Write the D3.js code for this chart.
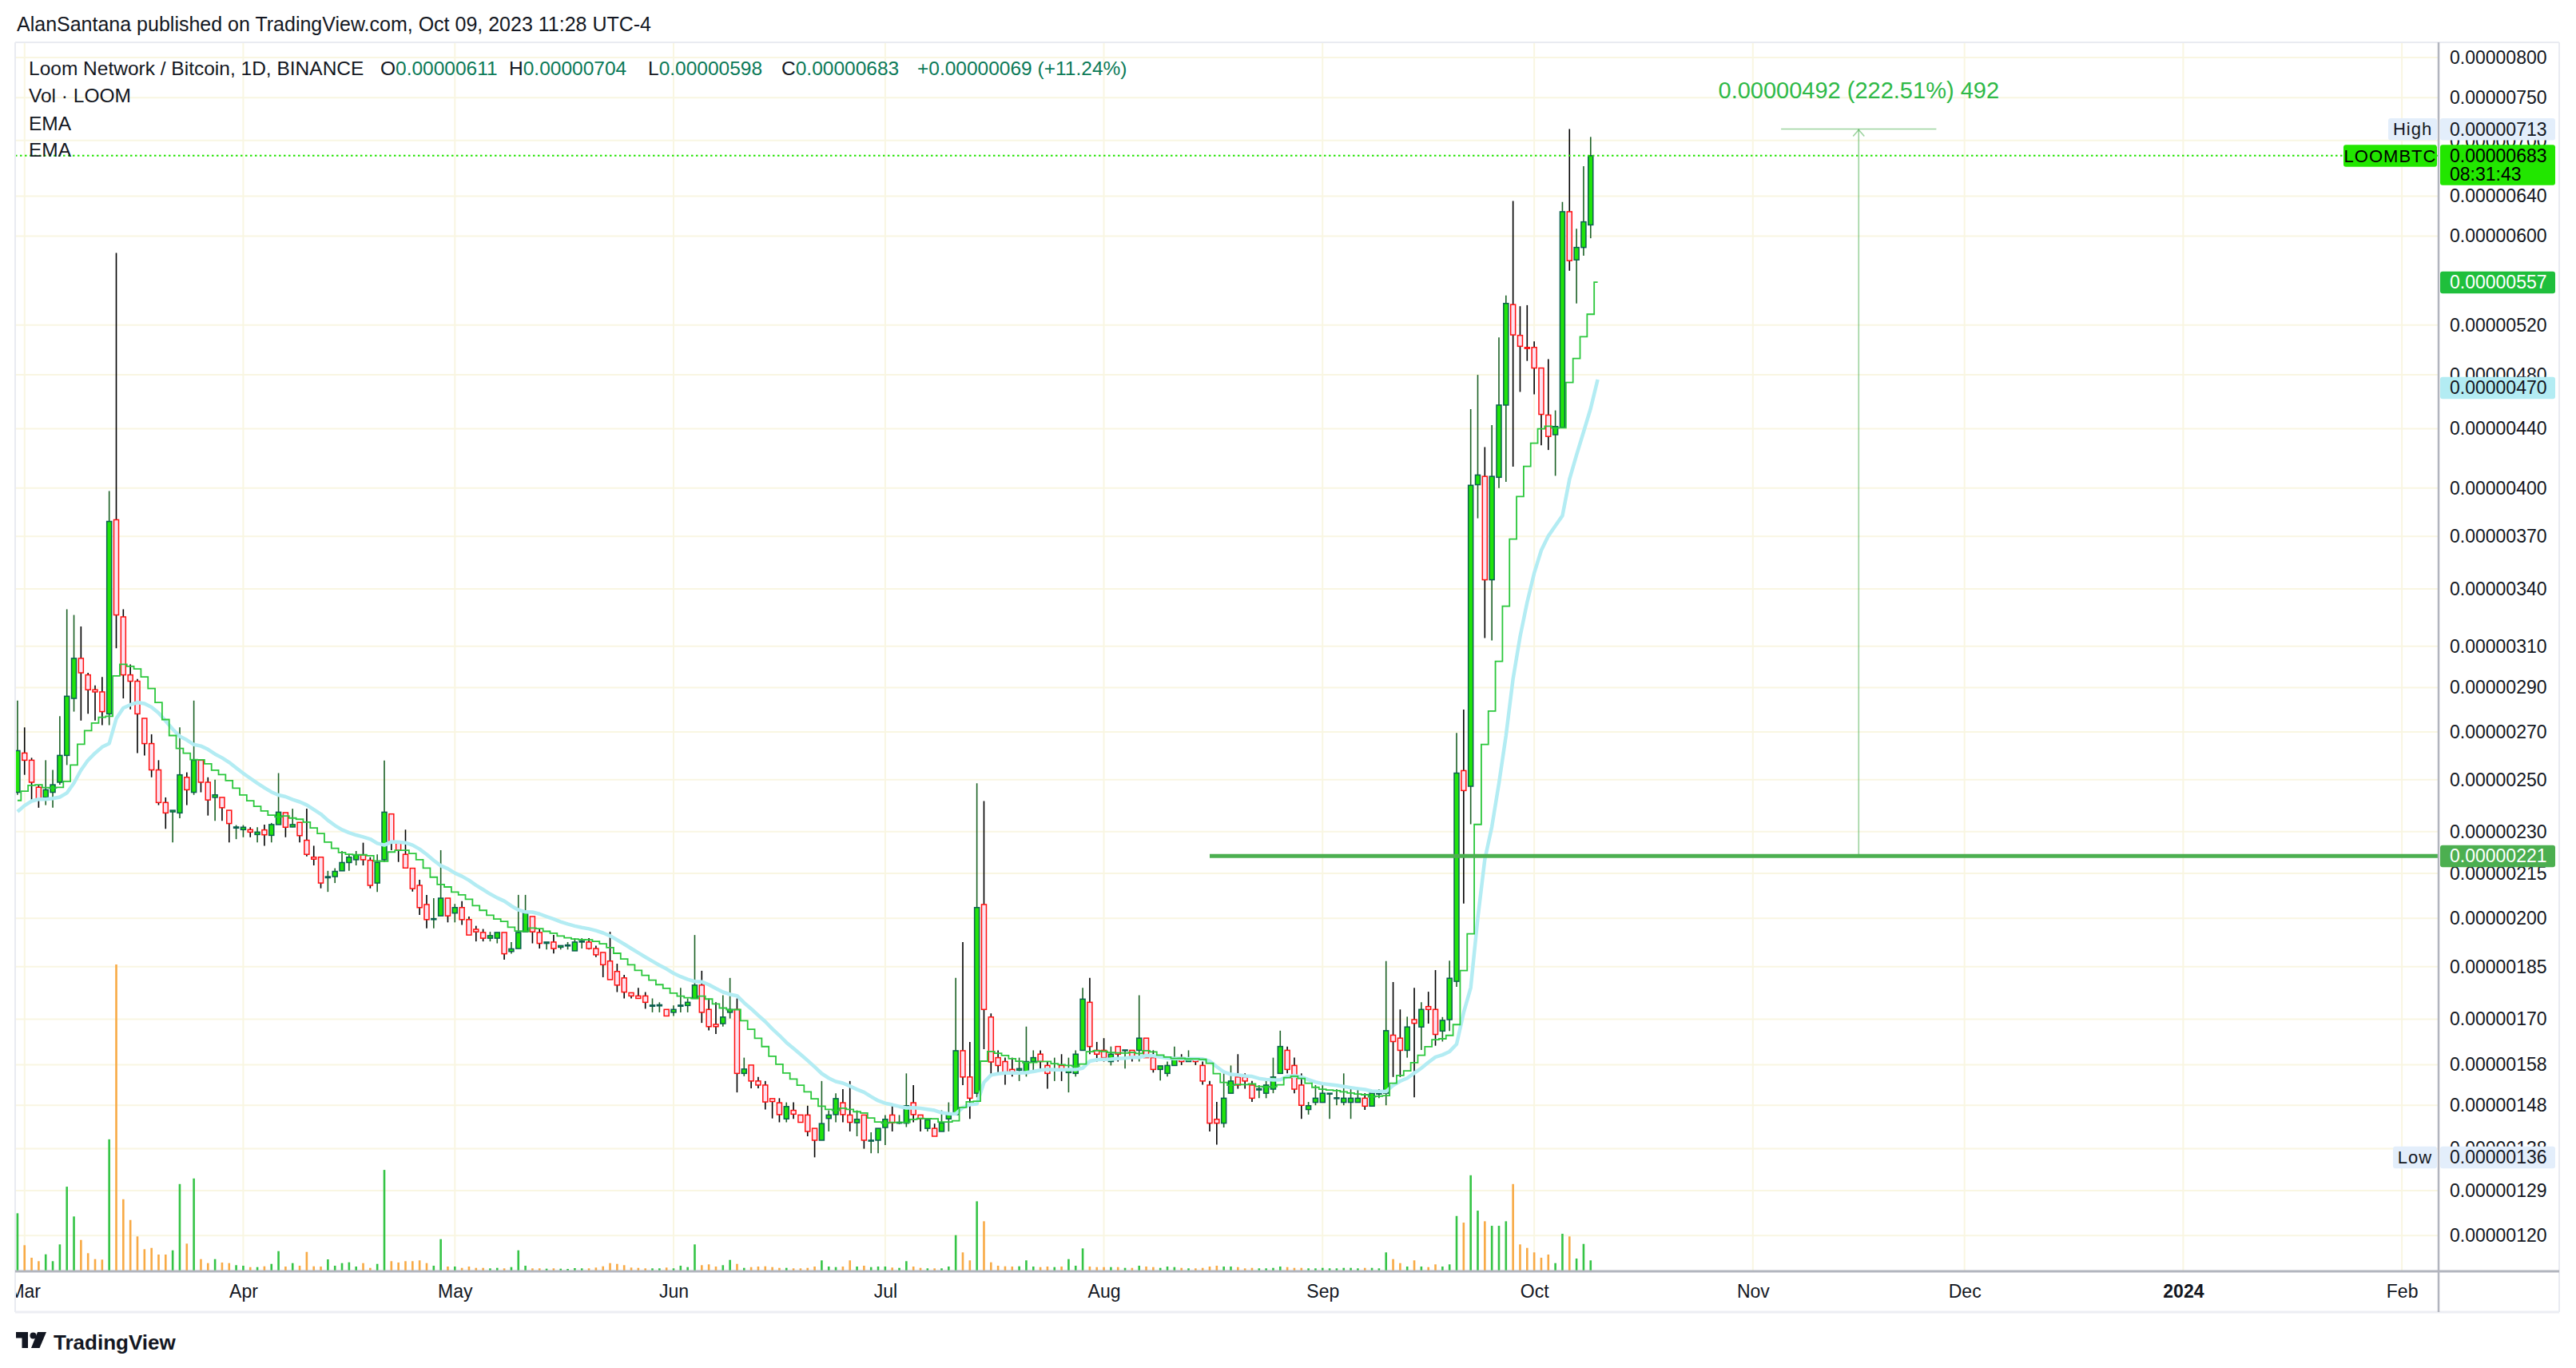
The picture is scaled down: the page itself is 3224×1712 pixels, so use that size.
<!DOCTYPE html>
<html><head><meta charset="utf-8">
<script src="https://cdn.jsdelivr.net/npm/d3@7"></script>
<style>
html,body{margin:0;padding:0;background:#fff;}
svg{display:block;font-family:"Liberation Sans",Arial,sans-serif;}
</style></head><body>
<svg id="c" width="3224" height="1712"></svg>
<script>
// ---------- DATA (prices in units of 1e-8 BTC, daily candles from 2023-02-28) ----------
const startDay = "2023-02-28";
const openP = [
245,261,258,247,243,245,249,260,285,304,
296,289,288,278,380,325,296,293,276,265,
254,241,237.4,237,251,245,258,249,243,243,
238,231.3,230.7,230.7,228.9,230.6,228.6,232.6,237.1,231.7,
233.4,226.8,220.7,220.7,213.5,213.9,215.9,218.8,219.8,221.5,
219.6,211.7,219.8,236.6,225.7,221.7,216.8,210.9,204.5,199.6,
200.8,206.6,201.7,203.5,199.6,196.5,195.5,193.7,193.7,195.5,
189.6,190.5,195.7,200.6,195.5,192.1,192.5,190.9,191.3,189.8,
192.5,192.5,190.5,189.3,186.7,183.6,181.7,177.4,176.5,176.5,
173.6,173.7,172.7,171.9,173.6,173.8,175.8,179.6,172.7,168.6,
168.8,171.9,172.7,155.8,157.9,153.9,152.9,149.6,148.6,144.8,
146.8,145.7,145.7,142.6,139.9,144.9,145.8,148.6,145.7,143.9,
145.7,139.7,139.9,142.8,145.7,143.8,143.8,148.6,145.7,142.6,
142.6,141.9,144.8,145.8,161.6,154.9,150.9,204.5,170.6,159.8,
158.8,156.8,156.6,155.8,158.8,160.7,157.8,156.6,157.8,156.0,
155.8,161.7,174.7,161.7,161.7,158.8,162.7,161.6,161.7,161.7,
164.9,159.8,156.8,155.8,157.8,159.8,158.8,159.6,157.8,152.9,
144.7,143.8,150.9,154.9,154.9,152.9,151.7,150.9,151.9,155.8,
161.7,157.8,152.9,147.0,148.7,148.7,150.7,149.6,148.7,148.7,
148.7,149.7,147.8,150.7,150.9,165.7,164.9,161.7,169.9,167.9,
173.5,172.7,166.8,169.9,180.7,253.7,247.4,402.1,407.5,345.0,
406.9,457.1,537.4,511.4,501.6,501.6,485.2,449.8,435.8,440.9,
624.1,577.5,589.2,611];
const highP = [
284,272,259,248,258,254,277,329,326,320,
297,291,295,398,584,329,301,294,276,269,
258,243,238,272,253,284,258,251,250,243,
238,232.4,232.4,231.6,231.6,232.6,233.2,252.7,237.1,238.6,
233.4,238.6,224.8,220.7,215.9,216.8,222.9,222.0,222.9,225.9,
220.7,221.7,257.9,236.6,225.7,230.7,216.8,212.8,207.7,206.6,
223.2,206.6,204.7,205.6,200.6,197.6,196.6,195.7,195.5,195.5,
192.5,207.7,207.7,200.6,196.5,192.5,194.7,191.4,192.5,193.7,
193.7,193.7,191.4,189.3,195.7,185.9,182.6,177.4,178.8,177.6,
175.8,174.7,172.7,173.8,178.8,175.8,194.7,183.8,175.8,174.7,
176.7,181.7,175.8,159.8,157.9,154.9,153.9,149.6,149.7,148.7,
148.7,145.7,147.9,142.6,153.9,146.8,150.9,151.9,153.9,146.8,
145.7,141.7,142.6,145.7,147.9,145.7,155.8,152.9,145.7,144.6,
143.7,146.8,148.7,181.7,192.5,163.9,248.6,241.6,171.6,161.7,
159.8,159.8,159.8,168.0,161.7,161.7,158.8,159.8,160.7,159.8,
161.7,178.8,181.7,163.9,164.9,162.7,162.7,161.8,161.7,176.7,
164.9,161.7,157.7,158.8,162.7,160.7,161.7,159.6,158.8,153.9,
148.8,155.8,157.8,160.7,155.8,153.9,152.9,153.9,159.8,166.9,
162.7,159.8,155.8,148.8,152.9,152.9,150.9,151.9,155.8,151.9,
151.9,150.9,150.9,151.9,186.7,180.5,172.7,170.7,178.8,174.7,
177.7,184.0,170.6,186.8,269.6,279.9,454.2,479.9,427.2,442.6,
509.8,545.3,635.0,536.0,536.9,506.5,485.2,492.2,453.2,633.9,
713.0,607.2,671.6,704];
const lowP = [
244,252,242,239,240,239,248,256,279,275,
278,275,273,273,309,285,280,261,260,251,
240,231,226,235,240,244,245,236,234,234,
226,227.2,227.9,227.9,226.0,224.8,226.0,232.6,227.9,231.6,
226.0,221.0,217.8,209.9,208.7,211.7,215.9,215.9,217.8,217.8,
209.9,208.7,219.0,223.2,219.0,216.9,208.8,201.1,196.8,196.8,
200.8,198.7,198.7,197.9,194.7,192.7,192.7,192.7,192.1,187.1,
188.9,190.5,195.7,192.1,190.5,190.2,189.0,190.2,190.2,189.8,
190.5,190.2,187.9,181.9,181.2,177.6,175.8,175.8,175.8,172.9,
171.9,171.9,170.9,170.9,171.9,171.9,175.8,169.0,167.0,166.0,
168.0,170.2,151.1,155.1,152.1,152.1,147.0,144.9,144.0,144.0,
144.8,144.0,140.8,136.1,139.9,141.9,144.0,144.0,141.9,140.8,
138.0,137.0,137.0,138.8,141.9,143.6,142.9,144.0,141.9,141.9,
140.8,141.9,141.9,145.8,152.9,144.8,149.9,162.0,155.0,156.0,
153.0,155.0,153.9,155.0,156.0,157.0,152.0,153.9,153.9,151.1,
155.0,161.7,160.7,158.8,158.8,157.8,158.8,157.0,158.8,158.8,
159.8,156.0,154.0,155.0,157.8,157.9,158.8,157.9,153.0,141.9,
138.9,142.8,150.9,152.0,152.0,148.8,149.7,149.7,150.9,155.8,
155.8,150.9,144.8,145.8,148.0,148.7,144.8,148.0,148.0,144.8,
148.7,146.9,147.8,149.7,148.0,154.9,154.9,159.8,149.9,161.8,
168.8,162.9,164.0,166.8,179.1,204.8,232.7,380.9,314.1,312.9,
400.0,404.0,413.9,466.9,490.8,465.0,428.4,425.2,407.9,440.9,
567.5,538.4,581.4,598];
const closeP = [
262,258,249,242,246,248,260,286,304,297,
289,288,279,379,326,296,293,278,265,254,
241,237,238,252,246,258,249,242,244,239,
233,231.7,231.6,229.8,229.8,228.8,232.6,237.3,231.6,232.6,
228.5,221.7,220.0,211.7,213.9,215.7,218.8,220.7,221.5,219.8,
210.9,218.9,237.3,225.9,223.2,216.9,209.8,203.5,199.6,199.9,
206.6,200.8,203.5,199.6,194.7,195.7,193.7,194.5,195.5,188.9,
190.4,195.5,201.7,195.7,192.1,192.5,190.5,191.4,191.6,192.5,
192.8,190.5,188.6,185.6,181.2,179.6,177.6,176.5,175.8,174.7,
173.9,174.0,170.9,172.7,173.9,174.7,179.6,171.9,168.0,168.0,
170.6,172.7,155.8,156.9,153.9,152.9,148.8,148.9,145.8,147.7,
145.9,144.0,141.9,139.9,143.7,145.7,149.6,145.8,144.0,144.7,
139.9,139.9,142.6,144.7,143.9,144.0,147.9,145.8,144.8,144.6,
140.8,143.9,145.7,161.6,154.9,149.7,203.5,172.7,158.7,157.8,
155.8,156.0,157.0,158.8,159.8,158.8,155.8,156.9,156.8,156.8,
160.7,175.6,162.7,160.7,159.8,160.7,160.7,161.8,159.8,164.9,
159.8,156.8,157.7,157.8,159.8,158.8,159.6,158.8,153.9,143.8,
143.8,149.7,153.9,152.9,153.9,149.7,152.0,152.9,154.9,162.7,
156.8,151.9,148.0,147.9,149.7,150.9,150.9,149.8,149.7,149.7,
149.7,147.8,150.9,150.9,166.9,164.0,161.7,167.9,168.9,172.7,
172.7,165.9,169.7,181.6,252.7,245.7,401.7,408.4,345.0,407.5,
457.1,538.4,511.8,502.5,500.7,485.2,450.3,434.6,441.6,624.1,
576.8,589.2,614,683];
// volume (relative units)
const volume = [
71.7,31.7,16,11.7,20.3,11.7,32.7,105,67.7,38.3,
21.7,14.3,13.7,164.3,383.3,89.3,63.3,42.7,26.7,28.3,
20,20,25.3,108.3,33.7,115.3,14.3,9.3,14.3,10,
9.3,6.7,6,4.3,4.3,5.3,8.3,24.3,5,9.3,
6,23.3,5.3,5,14,6,9.3,10.3,5,9.3,
3.3,8.3,126,11.7,10,11.7,11.7,12.7,9.3,6,
39.3,5,5,3.3,5,3.3,3.3,2.7,3.3,2.7,
4.3,25.3,6,2.7,2.7,2.3,2.7,2.3,2,3,
2.7,2.7,3.7,5.3,9.3,8.3,6.7,3.7,3.3,2.7,
2.7,2.7,3.7,2.7,6,4.3,32.7,6.7,7.7,5,
6.7,13.3,8.3,3.3,4.3,5,5.3,4.3,3.3,3.3,
2.7,2.7,3.3,5,12.7,5,4.3,5,12.7,5,
6,4.3,5,5,3.7,3.3,11.7,5,3.3,2.7,
2.7,2.7,5,44.3,22.7,12.7,86.7,61.7,10.3,6,
5.3,5,5.3,12.7,5,4.3,5,4.3,5,14.3,
6,27.7,5,4.3,4.3,4.3,4.3,3.3,3.3,6,
5,4.3,3.3,5,4.3,3.3,2.7,2.7,3.3,5,
6,5,5,4.3,2.7,3.3,2.7,2.7,3.3,5,
4.3,3.3,3.3,2.7,2.7,3.3,2.7,2.7,3.3,3.3,
2.7,3.3,3.3,2.7,22.7,14.3,9.3,5,12.7,5,
4.3,7.7,5,7.7,68.3,60,119.3,75,61.7,56,
56,61.7,108.3,32.7,28.3,22.7,16,20,9.3,46,
42.7,15,33.3,12.7];
// EMA settings / starting values read at the left edge, last values shown on the axis
const emaLengths = [10, 20];
const emaStart = [241.8, 237.5];
const emaLast = [557, 470];
// price axis ticks
const priceTicks = [800,750,700,640,600,520,480,440,400,370,340,310,290,270,250,230,215,200,185,170,158,148,138,129,120];
// time axis
const monthTicks = ["2023-03-01","2023-04-01","2023-05-01","2023-06-01","2023-07-01","2023-08-01","2023-09-01","2023-10-01","2023-11-01","2023-12-01","2024-01-01","2024-02-01"];
const monthLabels = ["Mar","Apr","May","Jun","Jul","Aug","Sep","Oct","Nov","Dec","2024","Feb"];
// annotations
const supportLevel = 221.11;
const supportFrom = "2023-08-16";
const rangeFrom = "2023-11-05", rangeTo = "2023-11-27";
const countdown = "08:31:43";

// ---------- LAYOUT ----------
const svg = d3.select("#c");
const PL = 19, PR = 3052, PT = 53, PB = 1591, AXR = 3203, TB = 1642;
const ink = "#131722";
const parse = d3.utcParse("%Y-%m-%d");
const DAY = 86400000;
const t0 = parse(startDay).getTime();
const N = closeP.length;
const dates = d3.range(N).map(i => new Date(t0 + i * DAY));
const x = d3.scaleUtc().domain([parse("2023-02-28"), parse("2024-02-01")]).range([21.9, 3006.1]);
const bar = x(new Date(t0 + DAY)) - x(new Date(t0));
const y = d3.scaleLog().domain([120, 800]).range([1546.2, 72]);
const fmt = v => (v * 1e-8).toFixed(8);

const defs = svg.append("defs");
defs.append("clipPath").attr("id", "pane").append("rect").attr("x", PL).attr("y", PT).attr("width", PR - PL).attr("height", PB - PT);
defs.append("clipPath").attr("id", "taxis").append("rect").attr("x", PL + 1).attr("y", PB).attr("width", PR - PL - 1).attr("height", TB - PB);

svg.append("rect").attr("width", 3224).attr("height", 1712).attr("fill", "#fff");

// header
svg.append("text").attr("x", 21).attr("y", 39).attr("font-size", 25).attr("fill", ink)
  .text("AlanSantana published on TradingView.com, Oct 09, 2023 11:28 UTC-4");

// grid
const grid = svg.append("g").attr("clip-path", "url(#pane)");
grid.selectAll("line.h").data(priceTicks).join("line")
  .attr("x1", PL).attr("x2", PR).attr("y1", d => y(d)).attr("y2", d => y(d))
  .attr("stroke", "#f9f6e2").attr("stroke-width", 2);
grid.selectAll("line.v").data(monthTicks).join("line")
  .attr("x1", d => x(parse(d))).attr("x2", d => x(parse(d))).attr("y1", PT).attr("y2", PB)
  .attr("stroke", "#f9f6e2").attr("stroke-width", 2);

const pane = svg.append("g").attr("clip-path", "url(#pane)");
const isUp = i => closeP[i] >= openP[i];

// volume
const vScale = d3.scaleLinear().domain([0, d3.max(volume)]).range([0, 383]);
pane.append("g").selectAll("rect").data(d3.range(N)).join("rect")
  .attr("x", i => x(dates[i]) - 1.3).attr("width", 2.6)
  .attr("y", i => PB - 1 - vScale(volume[i])).attr("height", i => vScale(volume[i]))
  .attr("fill", i => isUp(i) ? "#35c446" : "#f8aa45");

// candles
const cg = pane.append("g");
cg.selectAll("line").data(d3.range(N)).join("line")
  .attr("x1", i => x(dates[i])).attr("x2", i => x(dates[i]))
  .attr("y1", i => y(highP[i])).attr("y2", i => y(lowP[i]))
  .attr("stroke", i => isUp(i) ? "#1b6125" : "#000").attr("stroke-width", 1.6);
cg.selectAll("rect").data(d3.range(N)).join("rect")
  .attr("x", i => x(dates[i]) - 3).attr("width", 6)
  .attr("y", i => y(Math.max(openP[i], closeP[i])))
  .attr("height", i => Math.max(1, y(Math.min(openP[i], closeP[i])) - y(Math.max(openP[i], closeP[i]))))
  .attr("fill", i => isUp(i) ? "#20e40c" : "#fde3f2")
  .attr("stroke", i => isUp(i) ? "#0a5f50" : "#ff1010").attr("stroke-width", 1.5);

// EMA indicators (computed from closes, drawn with a one-bar offset)
function ema(src, len, seed) { const a = 2 / (len + 1); let e = seed; return src.map(v => (e = e + a * (v - e))); }
const emaF = ema(closeP, emaLengths[0], emaStart[0]);
const emaS = ema(closeP, emaLengths[1], emaStart[1]);
const ptsF = [[x(dates[0]), emaStart[0]]].concat(emaF.map((v, i) => [x(dates[i]) + bar, v]));
const ptsS = [[x(dates[0]), emaStart[1]]].concat(emaS.map((v, i) => [x(dates[i]) + bar, v]));
pane.append("path").attr("d", d3.line().x(d => d[0]).y(d => y(d[1]))(ptsS))
  .attr("fill", "none").attr("stroke", "#b3ecf3").attr("stroke-width", 4.5).attr("stroke-linejoin", "round");
pane.append("path").attr("d", d3.line().x(d => d[0]).y(d => y(d[1])).curve(d3.curveStep)(ptsF))
  .attr("fill", "none").attr("stroke", "#2bc73c").attr("stroke-width", 1.8);

// last price dotted line
const last = closeP[N - 1];
pane.append("line").attr("x1", PL).attr("x2", PR).attr("y1", y(last)).attr("y2", y(last))
  .attr("stroke", "#22e400").attr("stroke-width", 2).attr("stroke-dasharray", "2.5 3.5");

// support line
pane.append("line").attr("x1", x(parse(supportFrom))).attr("x2", PR).attr("y1", y(supportLevel)).attr("y2", y(supportLevel))
  .attr("stroke", "#4caf50").attr("stroke-width", 5);

// price range measurement
const hi = d3.max(highP), lo = d3.min(lowP);
const rx0 = x(parse(rangeFrom)), rx1 = x(parse(rangeTo)), rxm = (rx0 + rx1) / 2;
const mcol = "rgba(76,175,80,0.55)";
pane.append("line").attr("x1", rxm).attr("x2", rxm).attr("y1", y(supportLevel)).attr("y2", y(hi)).attr("stroke", mcol).attr("stroke-width", 1.6);
pane.append("line").attr("x1", rx0).attr("x2", rx1).attr("y1", y(hi)).attr("y2", y(hi)).attr("stroke", mcol).attr("stroke-width", 1.6);
pane.append("path").attr("d", `M${rxm - 7},${y(hi) + 9}L${rxm},${y(hi) + 1}L${rxm + 7},${y(hi) + 9}`)
  .attr("fill", "none").attr("stroke", mcol).attr("stroke-width", 1.6);
const diff = Math.round(hi - supportLevel);
svg.append("text").attr("x", rxm).attr("y", 113).attr("dy", "0.35em").attr("text-anchor", "middle")
  .attr("font-size", 29).attr("fill", "#2fb947")
  .text(`${fmt(diff)} (${(diff / supportLevel * 100).toFixed(2)}%) ${diff}`);

// legend
const legend = svg.append("g").attr("font-size", 24.5).attr("fill", ink);
const green = "#0b7a58";
const t1 = legend.append("text").attr("y", 94);
t1.append("tspan").attr("x", 36).text("Loom Network / Bitcoin, 1D, BINANCE");
const prevClose = closeP[N - 2];
[["O", openP[N - 1], 476], ["H", highP[N - 1], 637], ["L", lowP[N - 1], 811], ["C", last, 978]].forEach(([k, v, px]) => {
  t1.append("tspan").attr("x", px).text(k);
  t1.append("tspan").attr("fill", green).text(fmt(v));
});
t1.append("tspan").attr("x", 1148).attr("fill", green)
  .text(`+${fmt(last - prevClose)} (+${((last - prevClose) / prevClose * 100).toFixed(2)}%)`);
legend.append("text").attr("x", 36).attr("y", 128).text("Vol · LOOM");
legend.append("text").attr("x", 36).attr("y", 163).text("EMA");
legend.append("text").attr("x", 36).attr("y", 196).text("EMA");

// price axis
const ya = svg.append("g").attr("transform", `translate(${PR},0)`)
  .call(d3.axisRight(y).tickValues(priceTicks).tickSize(0).tickPadding(14).tickFormat(fmt));
ya.select(".domain").remove();
ya.selectAll("text").attr("font-size", 23).attr("fill", ink).attr("font-family", "Liberation Sans, Arial, sans-serif");

// time axis
const xwrap = svg.append("g").attr("clip-path", "url(#taxis)");
const xa = xwrap.append("g").attr("transform", `translate(0,${PB})`)
  .call(d3.axisBottom(x).tickValues(monthTicks.map(parse)).tickSize(0).tickPadding(17).tickFormat((d, i) => monthLabels[i]));
xa.select(".domain").remove();
xa.selectAll("text").attr("font-size", 23).attr("fill", ink).attr("font-family", "Liberation Sans, Arial, sans-serif")
  .attr("font-weight", (d, i) => monthLabels[i] === "2024" ? "bold" : "normal");

// frame
svg.append("line").attr("x1", PL).attr("x2", AXR).attr("y1", PT).attr("y2", PT).attr("stroke", "#e9ebf1").attr("stroke-width", 2);
svg.append("line").attr("x1", PL).attr("x2", PL).attr("y1", PT).attr("y2", TB).attr("stroke", "#e9ebf1").attr("stroke-width", 2);
svg.append("line").attr("x1", AXR).attr("x2", AXR).attr("y1", PT).attr("y2", TB).attr("stroke", "#e9ebf1").attr("stroke-width", 2);
svg.append("line").attr("x1", PL).attr("x2", AXR).attr("y1", TB).attr("y2", TB).attr("stroke", "#eceef3").attr("stroke-width", 3);
svg.append("line").attr("x1", PL).attr("x2", AXR).attr("y1", PB).attr("y2", PB).attr("stroke", "#b2b5be").attr("stroke-width", 3);
svg.append("line").attr("x1", PR).attr("x2", PR).attr("y1", PT).attr("y2", TB).attr("stroke", "#b2b5be").attr("stroke-width", 2.5);

// axis badges
function badge(v, fill, color, label, labelFill, h, lines) {
  const cy = y(v);
  const g = svg.append("g");
  const top = cy - 13.5;
  g.append("rect").attr("x", PR + 2).attr("y", top).attr("width", 144).attr("height", h).attr("rx", 3).attr("fill", fill);
  (lines || [fmt(v)]).forEach((t, k) => g.append("text").attr("x", 3066).attr("y", cy + k * 23.5).attr("dy", "0.35em")
    .attr("font-size", 23).attr("fill", color).text(t));
  if (label) {
    const lw = label.w;
    g.append("rect").attr("x", PR - 2 - lw).attr("y", top).attr("width", lw).attr("height", 27.5).attr("rx", 3).attr("fill", labelFill);
    g.append("text").attr("x", PR - 2 - lw / 2).attr("y", cy).attr("dy", "0.35em").attr("text-anchor", "middle")
      .attr("font-size", 22).attr("letter-spacing", 1).attr("fill", label.color).text(label.text);
  }
}
badge(hi, "#e3eefb", ink, { text: "High", w: 61, color: ink }, "#e3eefb", 27.5);
badge(lo, "#e3eefb", ink, { text: "Low", w: 55, color: ink }, "#e3eefb", 27.5);
badge(emaLast[0], "#1fbf3c", "#fff", null, null, 27.5);
badge(emaLast[1], "#b3ecf3", ink, null, null, 27.5);
badge(supportLevel, "#4caf50", "#fff", null, null, 27.5);
badge(last, "#22e600", "#000", { text: "LOOMBTC", w: 117, color: "#000" }, "#22e600", 50.5, [fmt(last), countdown]);

// TradingView logo
const logo = svg.append("g").attr("fill", ink);
logo.append("path").attr("d", "M20,1667h15v20h-7.5v-12.5h-7.5z");
logo.append("circle").attr("cx", 41.5).attr("cy", 1671.5).attr("r", 4);
logo.append("path").attr("d", "M47,1667h11l-8.5,20h-10.5z");
svg.append("text").attr("x", 67).attr("y", 1689).attr("font-size", 26).attr("font-weight", "bold").attr("fill", ink).text("TradingView");
</script>
</body></html>
